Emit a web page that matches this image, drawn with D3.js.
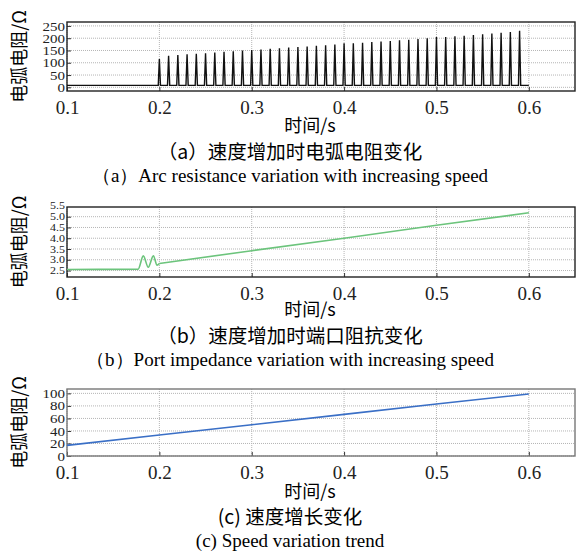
<!DOCTYPE html>
<html>
<head>
<meta charset="utf-8">
<script src="https://cdn.jsdelivr.net/npm/d3@7"></script>
<style>
  body { margin: 0; background: #fff; }
  .cap-cn { font-family: "Noto Sans CJK SC", sans-serif; }
  .cap-en { font-family: "Liberation Serif", "Times New Roman", serif; }
</style>
</head>
<body>
<div id="grafica"></div>
<script>
// datos
const xTicks = [0.1, 0.2, 0.3, 0.4, 0.5, 0.6]

// (a) arc resistance spikes, one per 10 ms
const spikeTimes = [0.20, 0.21, 0.22, 0.23, 0.24, 0.25, 0.26, 0.27, 0.28, 0.29,
    0.30, 0.31, 0.32, 0.33, 0.34, 0.35, 0.36, 0.37, 0.38, 0.39,
    0.40, 0.41, 0.42, 0.43, 0.44, 0.45, 0.46, 0.47, 0.48, 0.49,
    0.50, 0.51, 0.52, 0.53, 0.54, 0.55, 0.56, 0.57, 0.58, 0.59]
const spikePeaks = [115, 128, 132, 135, 137, 139, 142, 145, 147, 150,
    152, 154, 157, 159, 162, 164, 166, 169, 171, 174,
    179, 179, 181, 184, 187, 189, 192, 194, 197, 200,
    205, 205, 208, 210, 213, 216, 219, 222, 225, 230]
const arcBase = 8
const arcTicks = [0, 50, 100, 150, 200, 250]

// (b) port impedance: transient part, then ramp
const portT = [0.1, 0.177, 0.1826, 0.188, 0.1935, 0.1975, 0.2]
const portV = [2.55, 2.56, 3.18, 2.65, 3.18, 2.75, 2.83]
const rampT = [0.2, 0.3, 0.4, 0.5, 0.6]
const rampV = [2.83, 3.42, 4.0, 4.6, 5.18]
const portTicks = [2.5, 3.0, 3.5, 4.0, 4.5, 5.0, 5.5]

// (c) speed
const speedT = [0.1, 0.2, 0.3, 0.4, 0.5, 0.6]
const speedV = [17, 33.5, 50, 66.5, 83, 99]
const speedTicks = [0, 20, 40, 60, 80, 100]

const svgWidth = 576
const svgHeight = 552
const left = 67, right = 575
const serif = '"Liberation Serif", "Times New Roman", serif'

const svg = d3.select('#grafica')
    .append('svg')
    .attr('width', svgWidth)
    .attr('height', svgHeight)

const scaleX = d3.scaleLinear().domain([0.1, 0.65]).range([left, right])

function panel(top, bottom, yDomain, yTicks, yFont, ySquash, yFmt, xLabY, frameColor) {
    const scaleY = d3.scaleLinear().domain(yDomain).range([bottom, top])
    const g = svg.append('g')

    // grid
    g.selectAll('.gx').data(xTicks).enter().append('line')
        .attr('x1', d => scaleX(d)).attr('x2', d => scaleX(d))
        .attr('y1', top).attr('y2', bottom)
        .style('stroke', '#b5b5b5').style('stroke-dasharray', '1,1')
    g.selectAll('.gy').data(yTicks.filter(d => scaleY(d) > top + 1)).enter().append('line')
        .attr('x1', left).attr('x2', right)
        .attr('y1', d => scaleY(d)).attr('y2', d => scaleY(d))
        .style('stroke', '#b5b5b5').style('stroke-dasharray', '1,1')

    // axes
    const ax = g.append('g')
        .attr('transform', `translate(0,${bottom})`)
        .call(d3.axisBottom(scaleX).tickValues(xTicks).tickSize(-4).tickPadding(7).tickFormat(d3.format('.1f')))
    ax.select('.domain').remove()
    ax.selectAll('.tick line').style('stroke', '#333')
    ax.selectAll('.tick text')
        .style('font-family', serif).style('font-size', '19px').style('fill', '#222')
        .attr('dy', '0.85em')

    const ay = g.append('g')
        .attr('transform', `translate(${left},0)`)
        .call(d3.axisLeft(scaleY).tickValues(yTicks.filter(d => scaleY(d) > top + 1)).tickSize(-4).tickPadding(2).tickFormat(yFmt))
    ay.select('.domain').remove()
    ay.selectAll('.tick line').style('stroke', '#333')
    ay.selectAll('.tick text')
        .style('font-family', serif).style('font-size', yFont + 'px').style('fill', '#222')
        .attr('transform', `scale(1,${ySquash})`)
    // labels that sit at the frame top
    yTicks.filter(d => scaleY(d) <= top + 1).forEach(d => {
        g.append('text')
            .attr('transform', `translate(${left - 2},${scaleY(d)}) scale(1,${ySquash})`)
            .attr('text-anchor', 'end').attr('dy', '0.32em')
            .style('font-family', serif).style('font-size', yFont + 'px').style('fill', '#222')
            .text(yFmt(d))
    })

    // frame
    g.append('rect')
        .attr('x', left).attr('y', top)
        .attr('width', right - left).attr('height', bottom - top)
        .style('fill', 'none').style('stroke', frameColor).style('stroke-width', 1.4)

    // y title
    g.append('text')
        .attr('class', 'cap-cn')
        .attr('transform', `translate(26,${(top + bottom) / 2}) rotate(-90)`)
        .attr('text-anchor', 'middle')
        .style('font-size', '18px')
        .text('电弧电阻/Ω')

    // x title
    g.append('text')
        .attr('class', 'cap-cn')
        .attr('x', 310).attr('y', xLabY)
        .attr('text-anchor', 'middle')
        .style('font-size', '18px')
        .text('时间/s')

    return { g, scaleY }
}

// (a)
const pa = panel(22, 91, [-15, 266], arcTicks, 15, 0.85, d3.format('d'), 132, '#222')
const arcPts = [[0.1, arcBase]]
spikeTimes.forEach((t, i) => {
    arcPts.push([t - 0.0012, arcBase], [t, spikePeaks[i]], [t + 0.0012, arcBase])
})
arcPts.push([0.6, arcBase])
pa.g.append('path')
    .datum(arcPts)
    .attr('d', d3.line().x(d => scaleX(d[0])).y(d => pa.scaleY(d[1])))
    .style('fill', 'none').style('stroke', '#111').style('stroke-width', 1.4)

// (b)
const pb = panel(207, 277, [2.2, 5.45], portTicks, 12, 0.8, d3.format('.1f'), 316, '#222')
pb.g.append('path')
    .datum(portT.map((t, i) => [t, portV[i]]))
    .attr('d', d3.line().curve(d3.curveMonotoneX).x(d => scaleX(d[0])).y(d => pb.scaleY(d[1])))
    .style('fill', 'none').style('stroke', '#6cc47c').style('stroke-width', 1.6)
pb.g.append('path')
    .datum(rampT.map((t, i) => [t, rampV[i]]))
    .attr('d', d3.line().x(d => scaleX(d[0])).y(d => pb.scaleY(d[1])))
    .style('fill', 'none').style('stroke', '#6cc47c').style('stroke-width', 1.6)

// (c)
const pc = panel(389, 456, [0, 107], speedTicks, 15, 0.85, d3.format('d'), 498, '#777')
pc.g.append('path')
    .datum(speedT.map((t, i) => [t, speedV[i]]))
    .attr('d', d3.line().x(d => scaleX(d[0])).y(d => pc.scaleY(d[1])))
    .style('fill', 'none').style('stroke', '#3a6fc6').style('stroke-width', 1.6)

// captions
const caps = [
    ['cap-cn', '（a）速度增加时电弧电阻变化', 159, 19.5],
    ['cap-en', '（a）Arc resistance variation with increasing speed', 182, 19],
    ['cap-cn', '（b）速度增加时端口阻抗变化', 343, 19.5],
    ['cap-en', '（b）Port impedance variation with increasing speed', 366, 19],
    ['cap-cn', '(c) 速度增长变化', 524, 19.5],
    ['cap-en', '(c) Speed variation trend', 547, 19]
]
svg.selectAll('.cap').data(caps).enter().append('text')
    .attr('class', d => d[0])
    .attr('x', 290).attr('y', d => d[2])
    .attr('text-anchor', 'middle')
    .style('font-size', d => d[3] + 'px')
    .text(d => d[1])
</script>
</body>
</html>
